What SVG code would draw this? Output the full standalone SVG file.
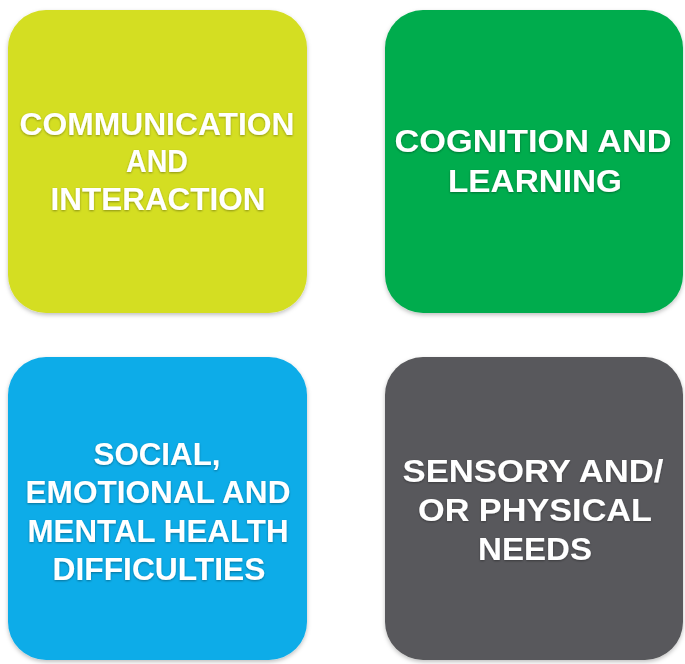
<svg xmlns="http://www.w3.org/2000/svg" width="685" height="664" viewBox="0 0 685 664">
<style>
.box{stroke:none;filter:url(#bs)}
.lbl{font-family:"Liberation Sans",Arial,sans-serif;font-weight:bold;font-size:32px;fill:#ffffff;text-anchor:middle;filter:url(#ts)}
</style>
<defs>
<filter id="bs" x="-5%" y="-5%" width="110%" height="112%">
<feDropShadow dx="0" dy="2" stdDeviation="2" flood-color="#000" flood-opacity="0.25"/>
</filter>
<filter id="ts" x="-5%" y="-20%" width="110%" height="140%">
<feDropShadow dx="0" dy="1" stdDeviation="1" flood-color="#000" flood-opacity="0.35"/>
</filter>
</defs>
<rect width="685" height="664" fill="#ffffff"/>
<g id="node-communication">
<rect class="box" x="8" y="10" width="299" height="303" rx="38" fill="#D4DE22"/>
<text class="lbl" x="157" y="135" textLength="275" lengthAdjust="spacingAndGlyphs">COMMUNICATION</text>
<text class="lbl" x="157" y="172" textLength="62" lengthAdjust="spacingAndGlyphs">AND</text>
<text class="lbl" x="158" y="210" textLength="215" lengthAdjust="spacingAndGlyphs">INTERACTION</text>
</g>
<g id="node-cognition">
<rect class="box" x="385" y="10" width="298" height="303" rx="38" fill="#00AC4E"/>
<text class="lbl" x="533" y="152" textLength="277" lengthAdjust="spacingAndGlyphs">COGNITION AND</text>
<text class="lbl" x="535" y="192" textLength="174" lengthAdjust="spacingAndGlyphs">LEARNING</text>
</g>
<g id="node-social">
<rect class="box" x="8" y="357" width="299" height="303" rx="38" fill="#0EACE8"/>
<text class="lbl" x="157" y="465" textLength="127" lengthAdjust="spacingAndGlyphs">SOCIAL,</text>
<text class="lbl" x="158" y="503" textLength="265" lengthAdjust="spacingAndGlyphs">EMOTIONAL AND</text>
<text class="lbl" x="158" y="542" textLength="261" lengthAdjust="spacingAndGlyphs">MENTAL HEALTH</text>
<text class="lbl" x="159" y="580" textLength="213" lengthAdjust="spacingAndGlyphs">DIFFICULTIES</text>
</g>
<g id="node-sensory">
<rect class="box" x="385" y="357" width="298" height="303" rx="38" fill="#58595B"/>
<text class="lbl" x="533" y="482" textLength="261" lengthAdjust="spacingAndGlyphs">SENSORY AND/</text>
<text class="lbl" x="535" y="521" textLength="234" lengthAdjust="spacingAndGlyphs">OR PHYSICAL</text>
<text class="lbl" x="535" y="560" textLength="114" lengthAdjust="spacingAndGlyphs">NEEDS</text>
</g>
<g id="connectors"></g>
</svg>
